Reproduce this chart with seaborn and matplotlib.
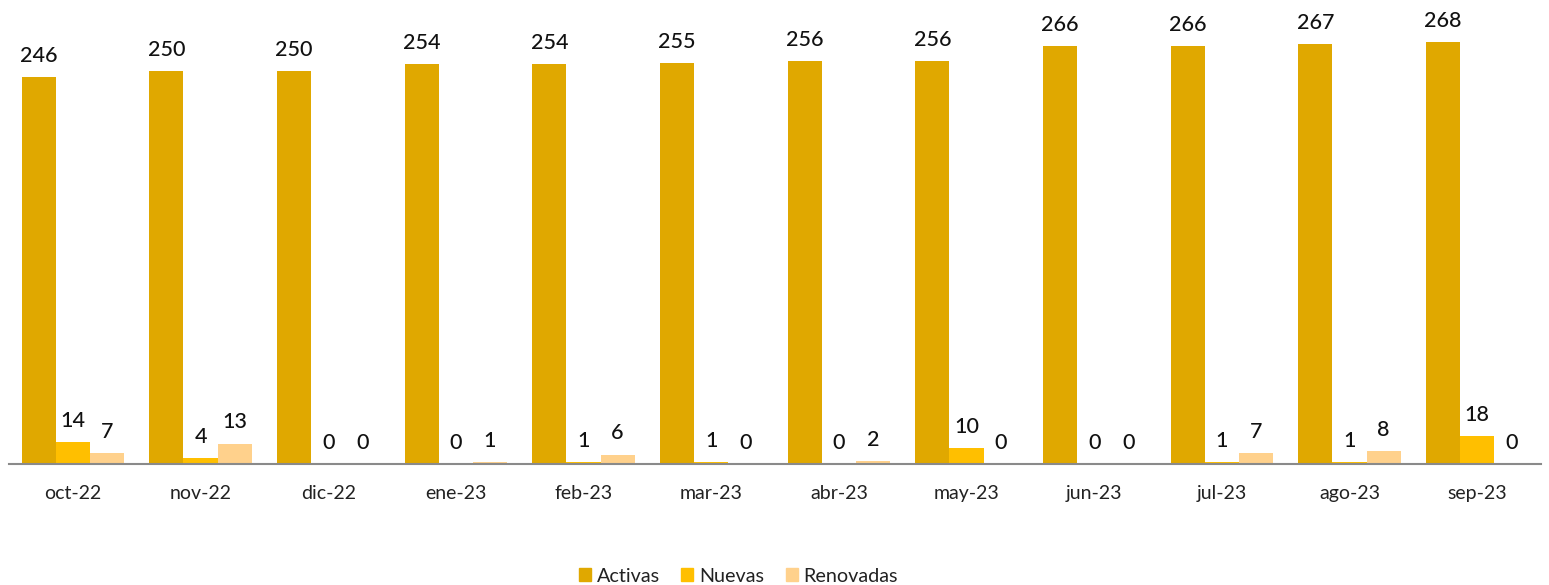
import matplotlib
matplotlib.use("Agg")
import matplotlib.pyplot as plt
import seaborn as sns
import pandas as pd

meses = ["oct-22", "nov-22", "dic-22", "ene-23", "feb-23", "mar-23",
         "abr-23", "may-23", "jun-23", "jul-23", "ago-23", "sep-23"]
activas = [246, 250, 250, 254, 254, 255, 256, 256, 266, 266, 267, 268]
nuevas = [14, 4, 0, 0, 1, 1, 0, 10, 0, 1, 1, 18]
renovadas = [7, 13, 0, 1, 6, 0, 2, 0, 0, 7, 8, 0]
series = ["Activas", "Nuevas", "Renovadas"]
colores = ["#E0A800", "#FFBF00", "#FFD18C"]

df = pd.DataFrame({
    "mes": meses * 3,
    "valor": activas + nuevas + renovadas,
    "serie": [s for s in series for _ in meses],
})

sns.set_theme(style="white")
plt.rcParams["font.family"] = ["Lato", "DejaVu Sans"]

fig = plt.figure(figsize=(15.49, 5.85), dpi=100)
ax = fig.add_axes([9 / 1549, 1 - 464 / 585, 1532 / 1549, 464 / 585])

sns.barplot(data=df, x="mes", y="valor", hue="serie", palette=colores,
            saturation=1, width=0.8, ax=ax, legend=False, linewidth=0)

for cont in ax.containers:
    ax.bar_label(cont, padding=8, fontsize=15.5, color="#111111", fontweight="medium")

ax.set_xlim(-0.5, 11.5)
ax.set_ylim(0, 295)
ax.set_xlabel("")
ax.set_ylabel("")
ax.set_yticks([])
ax.tick_params(axis="x", length=0, labelsize=14, colors="#222222", pad=15)
for side in ["top", "right", "left"]:
    ax.spines[side].set_visible(False)
ax.spines["bottom"].set_color("#8a8a8a")
ax.spines["bottom"].set_linewidth(1.5)

handles = [plt.Rectangle((0, 0), 1, 1, color=c) for c in colores]
fig.legend(handles, series, loc="center left",
           bbox_to_anchor=(561 / 1549, 1 - 576 / 585),
           ncol=3, frameon=False, fontsize=14.2, handlelength=0.6,
           handleheight=0.6, handletextpad=0.3, columnspacing=1.1,
           labelcolor="#222222")

fig.savefig("out.png", dpi=100)
